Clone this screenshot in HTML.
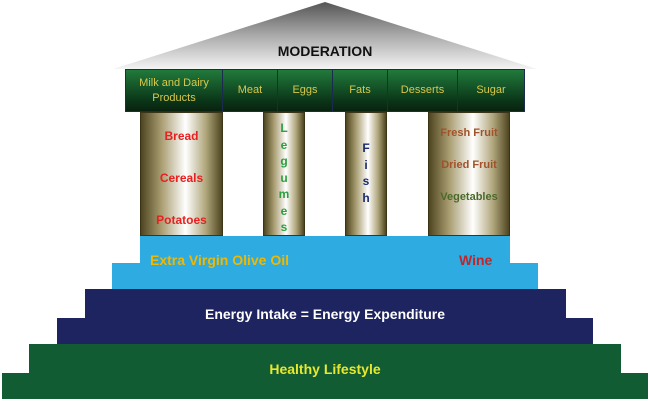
<!DOCTYPE html>
<html><head><style>
body{margin:0;width:650px;height:404px;background:#fff;position:relative;overflow:hidden;font-family:"Liberation Sans",sans-serif;font-weight:bold}
div{position:absolute;box-sizing:border-box}
.b{border:1px solid #1a2a50;background:linear-gradient(#217a3c,#0c3a1a 70%,#08220f);color:#d8c84a;font-weight:normal;font-size:11px;display:flex;align-items:center;justify-content:center;text-align:center;line-height:15px}
.c{background:linear-gradient(90deg,#4e4520,#a89c70 25%,#fff 55%,#b0a67c 80%,#4e4520);border:1px solid #3a3418}
.t{width:100%;text-align:center;font-size:11px}
</style></head><body>
<svg style="position:absolute;left:0;top:0" width="650" height="120">
<defs><linearGradient id="g" x1="0" y1="0" x2="0" y2="1"><stop offset="0" stop-color="#555"/><stop offset="0.5" stop-color="#aaa"/><stop offset="1" stop-color="#f4f4f4"/></linearGradient></defs>
<polygon points="113,69 325,2 537,69" fill="url(#g)"/>
</svg>
<div style="left:0;top:43px;width:650px;text-align:center;font-size:14px;color:#111">MODERATION</div>
<div class="b" style="left:125px;top:69px;width:98px;height:43px">Milk and Dairy<br>Products</div>
<div class="b" style="left:222px;top:69px;width:56px;height:43px">Meat</div>
<div class="b" style="left:277px;top:69px;width:56px;height:43px">Eggs</div>
<div class="b" style="left:332px;top:69px;width:56px;height:43px">Fats</div>
<div class="b" style="left:387px;top:69px;width:71px;height:43px">Desserts</div>
<div class="b" style="left:457px;top:69px;width:68px;height:43px">Sugar</div>
<div class="c" style="left:140px;top:112px;width:83px;height:124px;color:#e82020">
<div class="t" style="top:16px;font-size:12px">Bread</div><div class="t" style="top:58px;font-size:12px">Cereals</div><div class="t" style="top:100px;font-size:12px">Potatoes</div></div>
<div class="c" style="left:263px;top:112px;width:42px;height:124px;color:#2aa040"><div class="t" style="top:7px;line-height:16.5px;font-size:12px">L<br>e<br>g<br>u<br>m<br>e<br>s</div></div>
<div class="c" style="left:345px;top:112px;width:42px;height:124px;color:#1a2a70"><div class="t" style="top:27px;line-height:16.5px;font-size:12px">F<br>i<br>s<br>h</div></div>
<div class="c" style="left:428px;top:112px;width:82px;height:124px;font-size:11px">
<div class="t" style="top:14px;color:#a0522a">Fresh Fruit</div><div class="t" style="top:46px;color:#a0522a">Dried Fruit</div><div class="t" style="top:78px;color:#4a6a2a">Vegetables</div></div>
<div style="left:140px;top:236px;width:370px;height:28px;background:#2eabe0"></div>
<div style="left:112px;top:263px;width:426px;height:26px;background:#2eabe0"></div>
<div style="left:150px;top:252px;color:#f0b800;font-size:14px">Extra Virgin Olive Oil</div>
<div style="left:459px;top:252px;color:#c0262a;font-size:14px">Wine</div>
<div style="left:85px;top:289px;width:481px;height:30px;background:#1e2460"></div>
<div style="left:57px;top:318px;width:536px;height:26px;background:#1e2460"></div>
<div style="left:0;top:306px;width:650px;text-align:center;color:#fff;font-size:14px">Energy Intake = Energy Expenditure</div>
<div style="left:29px;top:344px;width:592px;height:30px;background:#115c32"></div>
<div style="left:2px;top:373px;width:646px;height:26px;background:#115c32"></div>
<div style="left:0;top:361px;width:650px;text-align:center;color:#e8e830;font-size:14px">Healthy Lifestyle</div>
</body></html>
